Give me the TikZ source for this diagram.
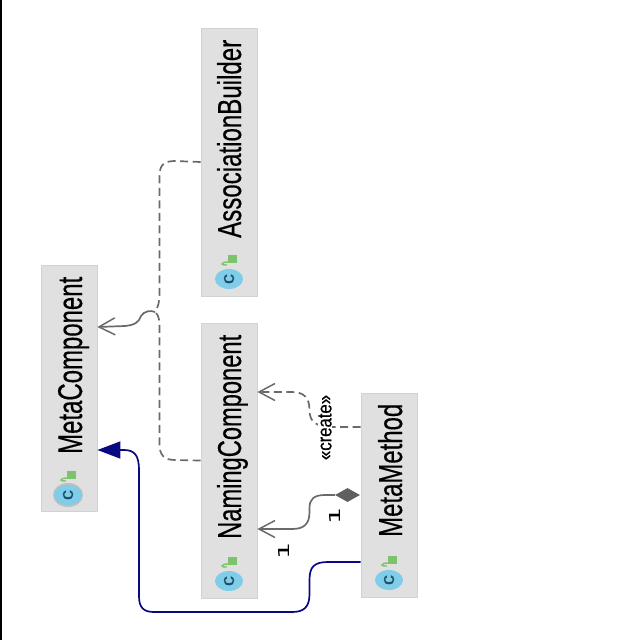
\documentclass[tikz,border=0pt]{standalone}
\usepackage{fontspec}
\setmainfont[FakeBold=0.5]{Liberation Sans}
\newfontfamily\numfont{DejaVu Sans}
\usetikzlibrary{arrows.meta,shapes.geometric}
\definecolor{boxfill}{HTML}{E0E0E0}
\definecolor{boxedge}{HTML}{D2D2D2}
\definecolor{linegray}{HTML}{6A6A6A}
\definecolor{inherit}{HTML}{0A0A80}
\definecolor{iconblue}{HTML}{7FCDE8}
\definecolor{icongreen}{HTML}{7DC36B}
\definecolor{iconletter}{HTML}{1F4F66}
\tikzset{
  x=1pt,y=-1pt,
  umlbox/.style={draw=boxedge,fill=boxfill,line width=0.8pt,inner sep=0pt,minimum width=56pt},
  title/.style={rotate=90,anchor=base west,inner sep=0pt,text=black},
  depend/.style={draw=linegray,line width=1.7pt,dash pattern=on 8pt off 4.5pt},
  assoc/.style={draw=linegray,line width=1.7pt},
  openhead/.style={-{Straight Barb[length=16pt,width=17pt,line width=1.5pt]}},
  generalize/.style={draw=inherit,line width=1.7pt,-{Triangle[length=23pt,width=17pt,fill=inherit]}},
  mult/.style={rotate=90,inner sep=0pt,font=\numfont,text=black},
  classicon/.pic={
    \fill[iconblue] (0,0) ellipse [x radius=14,y radius=10];
    \node[rotate=90,inner sep=0pt,text=iconletter] at (0,0) {\resizebox{10pt}{10pt}{c}};
    \fill[icongreen] (-1,-24) rectangle (8,-16);
    \draw[icongreen,line width=1.4pt] (-1,-17) .. controls (-5,-17) and (-7,-16) .. (-7,-15) .. controls (-7,-14) and (-5,-14) .. (-2,-14);
  }
}
\begin{document}
\begin{tikzpicture}
\useasboundingbox (0,0) rectangle (640,640);
% left margin rule
\fill[black] (0,0) rectangle (2,640);

% class boxes
\node[umlbox,minimum height=246pt] (mc) at (69,388) {};
\node[umlbox,minimum height=268pt] (ab) at (229,162) {};
\node[umlbox,minimum height=275pt] (nc) at (229,460.5) {};
\node[umlbox,minimum height=204pt] (mm) at (389,495) {};

% class names
\node[title] (mct) at (82,454) {\resizebox{177pt}{24pt}{MetaComponent}};
\node[title] (abt) at (241,238) {\resizebox{198pt}{24pt}{AssociationBuilder}};
\node[title] (nct) at (241,539) {\resizebox{204pt}{24pt}{NamingComponent}};
\node[title] (mmt) at (402,537) {\resizebox{133pt}{24pt}{MetaMethod}};

% class icons
\fill[black!25] (68,495) ellipse [x radius=15,y radius=12];
\pic at (68,495) {classicon};
\pic at (229,279) {classicon};
\pic at (229,581) {classicon};
\pic at (389,580) {classicon};

% connector ports along the box edges
\coordinate (mc-a) at (mc.east |- 0,327);
\coordinate (mc-b) at (mc.east |- 0,450);
\coordinate (nc-a) at (nc.east |- 0,392);
\coordinate (nc-b) at (nc.east |- 0,529);
\coordinate (mm-c) at (mm.west |- 0,427);
\coordinate (mm-g) at (mm.west |- 0,562);
\coordinate (join) at (155,312);

% dependencies of both builders on MetaComponent
\draw[depend] (ab.west) -- (175,161) .. controls (164,161) and (159.5,165) .. (159.5,176)
  -- (159.5,292) .. controls (159.5,302) and (158,308) .. (join);
\draw[depend] (nc.west) -- (175,460) .. controls (164,460) and (159.5,455) .. (159.5,444)
  -- (159.5,330) .. controls (159.5,320) and (159,315) .. (join);
\draw[assoc,openhead] (join) .. controls (151,310) and (144,311) .. (141,316)
  .. controls (139,322) and (135,325) .. (125,326) -- (mc-a);

% MetaMethod inherits from MetaComponent
\draw[generalize] (mm-g) -- (328,562) .. controls (314,562) and (309.5,567) .. (309.5,580)
  -- (309.5,594) .. controls (309.5,607) and (304,612) .. (292,612)
  -- (154,612) .. controls (143,612) and (139,607) .. (139,596)
  -- (139,470) .. controls (139,456) and (135,450) .. (124,450) -- (mc-b);

% MetaMethod creates NamingComponent
\draw[depend,openhead] (mm-c) -- (333,427) .. controls (316,427) and (309.5,422) .. (309.5,410)
  .. controls (309.5,398) and (304,392) .. (292,392) -- (nc-a);
\node[rotate=90,inner sep=0.5pt,fill=white,text=black] (lbl) at (325,427.5) {\resizebox{65pt}{13pt}{«create»}};

% composition between MetaMethod and NamingComponent
\node[diamond,fill=linegray!90!black,inner sep=0pt,minimum width=25pt,minimum height=14pt] (dm) at (347.5,495) {};
\draw[assoc,openhead] (dm.west) -- (325,495) .. controls (314,495) and (309.5,499) .. (309.5,508)
  -- (309.5,512) .. controls (309.5,524) and (304,529) .. (292,529) -- (nc-b);
\node[mult] (m1) at (335,516) {\resizebox{17pt}{11pt}{1}};
\node[mult] (m2) at (284,551) {\resizebox{17pt}{11pt}{1}};
\end{tikzpicture}
\end{document}
